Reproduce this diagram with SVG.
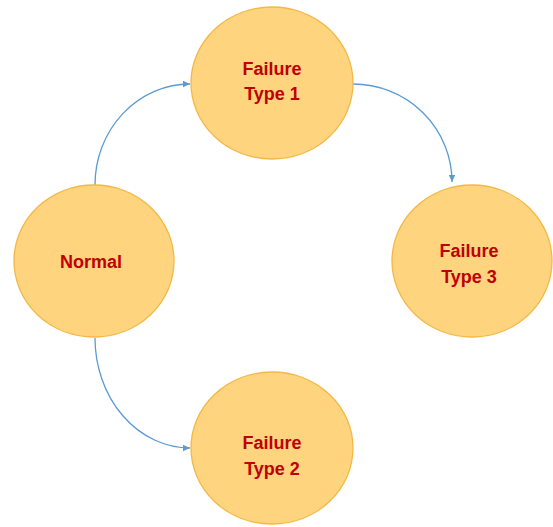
<svg xmlns="http://www.w3.org/2000/svg" width="553" height="527" viewBox="0 0 553 527">
<style>
.node{fill:#FFD47F;stroke:#F3B846;stroke-width:1.3}
.lbl{font-family:"Liberation Sans",Arial,sans-serif;font-weight:bold;font-size:18px;fill:#C00000;text-anchor:middle}
.edge{fill:none;stroke:#5B9BD5;stroke-width:1.3}
</style>
<defs>
<marker id="arr" markerWidth="8" markerHeight="8" refX="7" refY="4" orient="auto" markerUnits="userSpaceOnUse">
<path d="M0,0.8 L7,4 L0,7.2 Z" fill="#5B9BD5"/>
</marker>
</defs>
<rect width="553" height="527" fill="#FFFFFF"/>
<g id="edges">
<path class="edge" d="M95,185 A95,101 0 0 1 190,84" marker-end="url(#arr)"/>
<path class="edge" d="M353,84 A99,98 0 0 1 452,182" marker-end="url(#arr)"/>
<path class="edge" d="M95,338 A95,110 0 0 0 190,448" marker-end="url(#arr)"/>
</g>
<g id="type1">
<ellipse class="node" cx="272" cy="83" rx="81" ry="76"/>
<text class="lbl" x="272" y="75">Failure</text>
<text class="lbl" x="272" y="100">Type 1</text>
</g>
<g id="normal">
<ellipse class="node" cx="94" cy="261" rx="80" ry="76"/>
<text class="lbl" x="91" y="268">Normal</text>
</g>
<g id="type3">
<ellipse class="node" cx="472" cy="261" rx="80" ry="76"/>
<text class="lbl" x="469" y="257">Failure</text>
<text class="lbl" x="469" y="283">Type 3</text>
</g>
<g id="type2">
<ellipse class="node" cx="272" cy="448" rx="81" ry="76"/>
<text class="lbl" x="272" y="449">Failure</text>
<text class="lbl" x="272" y="475">Type 2</text>
</g>
</svg>
